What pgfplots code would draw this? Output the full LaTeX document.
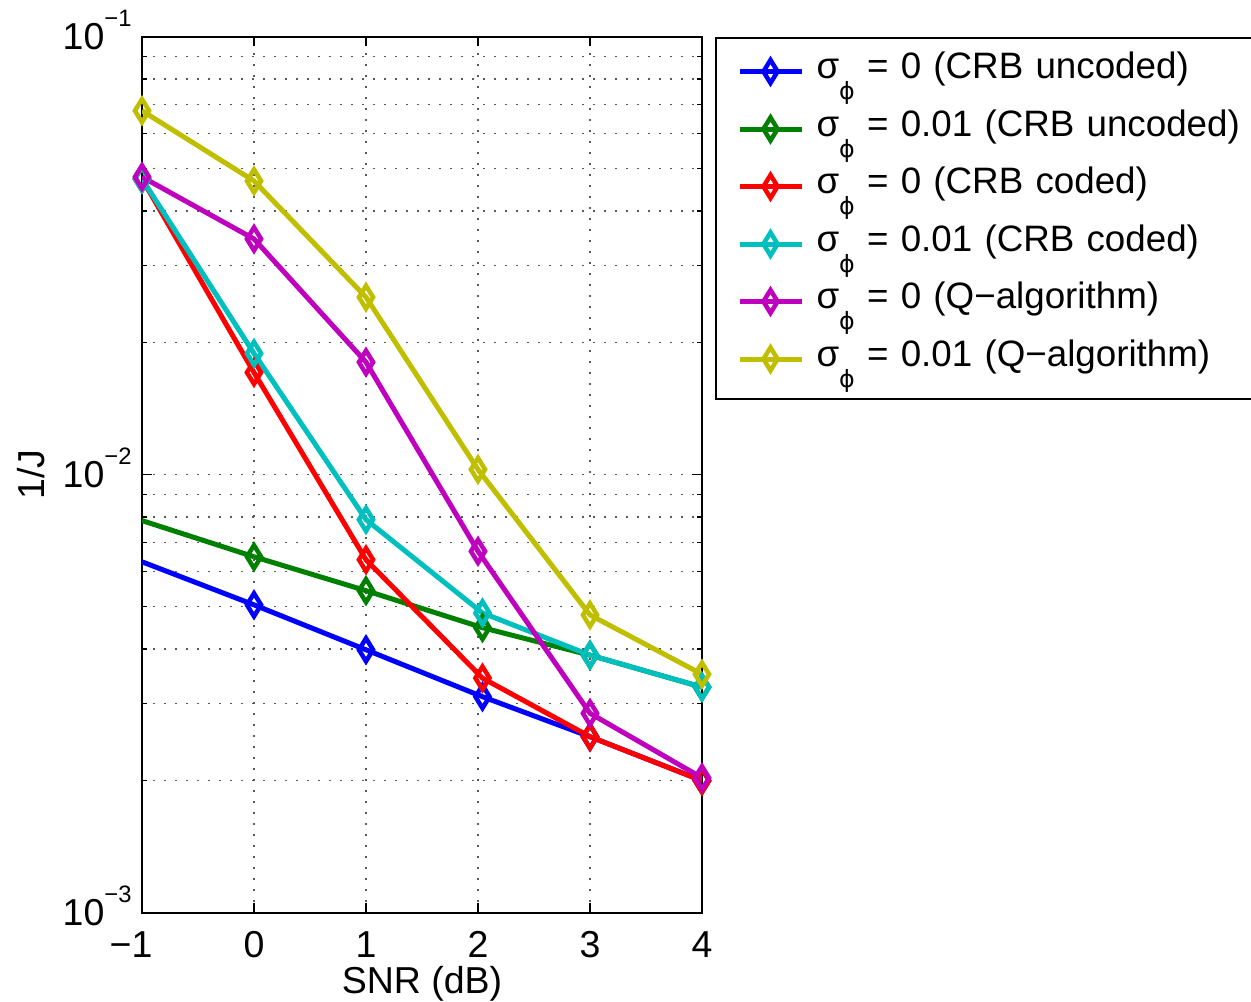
\documentclass[border=0pt]{standalone}
\usepackage{pgfplots}
\pgfplotsset{compat=1.18}
\usepackage{fontspec}
\setmainfont{Liberation Sans}
\newfontfamily\dejavu{DejaVu Sans}
\definecolor{mblue}{rgb}{0,0,1}
\definecolor{mgreen}{rgb}{0,0.5,0}
\definecolor{mred}{rgb}{1,0,0}
\definecolor{mcyan}{rgb}{0,0.75,0.75}
\definecolor{mmag}{rgb}{0.75,0,0.75}
\definecolor{myel}{rgb}{0.75,0.75,0}
\newcommand{\fs}{\fontsize{15}{18}\selectfont}
\newcommand{\lfs}{\fontsize{14.7}{18}\selectfont}
\newcommand{\sph}{σ\raisebox{-8.5pt}[0pt][0pt]{\dejavu\fontsize{9.5}{10}\selectfont ϕ}}
\newcommand{\lent}[1]{\mbox{\sph{} = #1}}
\newcommand{\tpow}[1]{10\raisebox{9.2pt}{\fontsize{9.5}{10}\selectfont #1}}
\begin{document}
\fs
\begin{tikzpicture}
\useasboundingbox (0,0) rectangle (500.4pt,400.8pt);
\begin{axis}[
  at={(56.8pt,35.8pt)}, anchor=south west,
  scale only axis, width=224pt, height=350.4pt,
  xmin=-1, xmax=4, ymin=1e-3, ymax=1e-1, ymode=log,
  axis line style={line width=0.8pt},
  xtick={-1,0,1,2,3,4}, xticklabels={\llap{−}1,0,1,2,3,4},
  ytick={1e-3,1e-2,1e-1},
  yticklabels={\tpow{−3},\tpow{−2},\tpow{−1}},
  tick align=inside,
  major tick length=4pt, minor tick length=2pt,
  every tick/.style={black, line width=0.6pt},
  xmajorgrids=true, ymajorgrids=true, yminorgrids=true,
  major grid style={black!65, line width=0.6pt, dash pattern=on 0.7pt off 3.7pt},
  minor grid style={black!65, line width=0.6pt, dash pattern=on 0.7pt off 3.7pt},
  xticklabel style={font=\fs, anchor=base, yshift=-17.8pt, inner sep=0pt},
  yticklabel style={font=\fs, anchor=base east, inner sep=0pt, xshift=-4pt, yshift=-5.35pt},
  xlabel={SNR (dB)}, ylabel={1/J},
  xlabel style={font=\fs, at={(axis description cs:0.5,-0.0919)}, anchor=base},
  ylabel style={font=\fs, at={(axis description cs:-0.1973,0.5)}, anchor=center},
  every axis plot/.append style={line width=2pt, mark=diamond, mark size=4.6pt, mark options={solid, line width=1.8pt, xscale=0.82}},
  legend image code/.code={\path (0pt,1.1pt); \draw[mark repeat=2,mark phase=2] plot coordinates {(3.6pt,1.1pt) (16pt,1.1pt) (28.4pt,1.1pt)};},
  legend cell align=left,
  legend style={at={(1,1)}, anchor=north west, xshift=5.2pt, draw=black, line width=0.8pt,
    font=\lfs, inner xsep=4.8pt, inner ysep=4pt, row sep=1.6pt, column sep=5pt,
    nodes={inner sep=0pt, text height=12.4pt, text depth=9pt, text width=170.6pt, align=left}},
]
\addplot[color=mblue, forget plot, mark=none] coordinates {(-1,0.00632) (0,0.00504)};
\addplot[color=mblue] coordinates {(0,0.00504) (1,0.00398) (2.04,0.00311) (3,0.00252) (4,0.00200)};
\addlegendentry{\lent{0 (CRB uncoded)}}
\addplot[color=mgreen, forget plot, mark=none] coordinates {(-1,0.00785) (0,0.00649)};
\addplot[color=mgreen] coordinates {(0,0.00649) (1,0.00543) (2.04,0.00447) (3,0.00387) (4,0.00327)};
\addlegendentry{\lent{0.01 (CRB uncoded)}}
\addplot[color=mred] coordinates {(-1,0.0473) (0,0.0171) (1,0.00639) (2.04,0.00343) (3,0.00252) (4,0.00200)};
\addlegendentry{\lent{0 (CRB coded)}}
\addplot[color=mcyan] coordinates {(-1,0.0473) (0,0.0189) (1,0.00789) (2.04,0.00483) (3,0.00387) (4,0.00327)};
\addlegendentry{\lent{0.01 (CRB coded)}}
\addplot[color=mmag] coordinates {(-1,0.0478) (0,0.0345) (1,0.01805) (2,0.00668) (3,0.00285) (4,0.00203)};
\addlegendentry{\lent{0 (Q−algorithm)}}
\addplot[color=myel] coordinates {(-1,0.0677) (0,0.0468) (1,0.0254) (2,0.01027) (3,0.00478) (4,0.0035)};
\addlegendentry{\lent{0.01 (Q−algorithm)}}
\end{axis}
\end{tikzpicture}
\end{document}
